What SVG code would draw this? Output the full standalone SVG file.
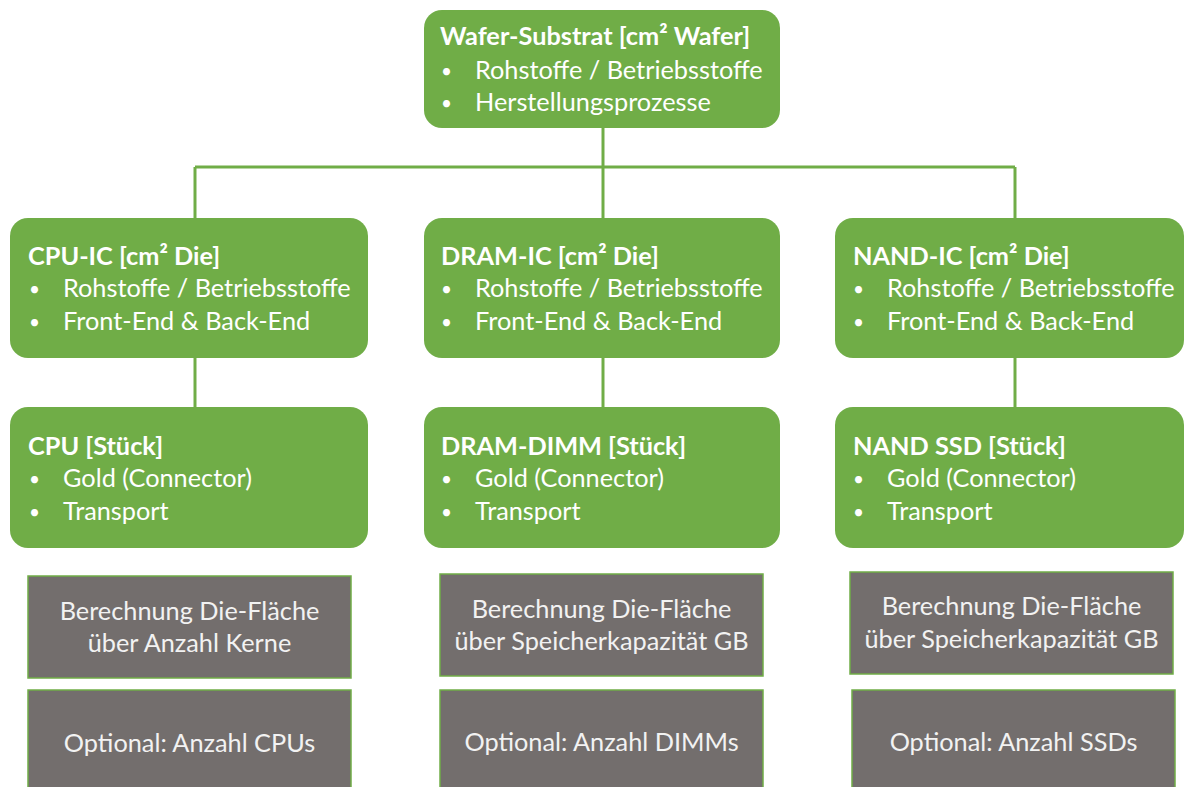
<svg xmlns="http://www.w3.org/2000/svg" width="1188" height="787" viewBox="0 0 1188 787">
  <style>
    .node { fill: #70ad47; }
    .note { fill: #736e6d; stroke: #70ad47; stroke-width: 1.5; }
    .link { fill: none; stroke: #70ad47; stroke-width: 3; }
    text { font-family: Lato, "Open Sans", "Liberation Sans", sans-serif; font-size: 25.3px; fill: #ffffff; }
    .title { font-weight: bold; }
    .dot { font-size: 19px; }
    .nt { fill: #f2f2f2; text-anchor: middle; }
  </style>
  <rect width="1188" height="787" fill="#ffffff"/>

  <!-- connectors -->
  <g id="connectors">
    <path class="link" d="M603 128 V218"/>
    <path class="link" d="M195 167 H1015"/>
    <path class="link" d="M195 167 V218"/>
    <path class="link" d="M1015 167 V218"/>
    <path class="link" d="M195 358 V407"/>
    <path class="link" d="M603 358 V407"/>
    <path class="link" d="M1015 358 V407"/>
  </g>

  <!-- root: wafer substrate -->
  <g id="wafer">
    <rect class="node" x="424" y="10" width="356" height="118" rx="18"/>
    <text class="title" x="440" y="45">Wafer-Substrat [cm² Wafer]</text>
    <text class="dot" x="441" y="78">•</text><text x="475" y="79">Rohstoffe / Betriebsstoffe</text>
    <text class="dot" x="441" y="110">•</text><text x="475" y="111">Herstellungsprozesse</text>
  </g>

  <!-- IC level -->
  <g id="cpu-ic">
    <rect class="node" x="10" y="218" width="358" height="140" rx="18"/>
    <text class="title" x="28" y="265">CPU-IC [cm² Die]</text>
    <text class="dot" x="29" y="296">•</text><text x="63" y="297">Rohstoffe / Betriebsstoffe</text>
    <text class="dot" x="29" y="329">•</text><text x="63" y="330">Front-End &amp; Back-End</text>
  </g>
  <g id="dram-ic">
    <rect class="node" x="424" y="218" width="356" height="140" rx="18"/>
    <text class="title" x="441" y="265">DRAM-IC [cm² Die]</text>
    <text class="dot" x="441" y="296">•</text><text x="475" y="297">Rohstoffe / Betriebsstoffe</text>
    <text class="dot" x="441" y="329">•</text><text x="475" y="330">Front-End &amp; Back-End</text>
  </g>
  <g id="nand-ic">
    <rect class="node" x="835" y="218" width="349" height="140" rx="18"/>
    <text class="title" x="853" y="265">NAND-IC [cm² Die]</text>
    <text class="dot" x="853" y="296">•</text><text x="887" y="297">Rohstoffe / Betriebsstoffe</text>
    <text class="dot" x="853" y="329">•</text><text x="887" y="330">Front-End &amp; Back-End</text>
  </g>

  <!-- product level -->
  <g id="cpu">
    <rect class="node" x="10" y="407" width="358" height="141" rx="18"/>
    <text class="title" x="28" y="455">CPU [Stück]</text>
    <text class="dot" x="29" y="486">•</text><text x="63" y="487">Gold (Connector)</text>
    <text class="dot" x="29" y="519">•</text><text x="63" y="520">Transport</text>
  </g>
  <g id="dram-dimm">
    <rect class="node" x="424" y="407" width="356" height="141" rx="18"/>
    <text class="title" x="441" y="455">DRAM-DIMM [Stück]</text>
    <text class="dot" x="441" y="486">•</text><text x="475" y="487">Gold (Connector)</text>
    <text class="dot" x="441" y="519">•</text><text x="475" y="520">Transport</text>
  </g>
  <g id="nand-ssd">
    <rect class="node" x="835" y="407" width="349" height="141" rx="18"/>
    <text class="title" x="853" y="455">NAND SSD [Stück]</text>
    <text class="dot" x="853" y="486">•</text><text x="887" y="487">Gold (Connector)</text>
    <text class="dot" x="853" y="519">•</text><text x="887" y="520">Transport</text>
  </g>

  <!-- calculation notes -->
  <g id="cpu-area">
    <rect class="note" x="28" y="576" width="323" height="102"/>
    <text class="nt" x="189.5" y="620">Berechnung Die-Fläche</text>
    <text class="nt" x="189.5" y="652">über Anzahl Kerne</text>
  </g>
  <g id="cpu-count">
    <rect class="note" x="28" y="690" width="323" height="110"/>
    <text class="nt" x="189.5" y="752">Optional: Anzahl CPUs</text>
  </g>
  <g id="dram-area">
    <rect class="note" x="440" y="574" width="323" height="102"/>
    <text class="nt" x="601.5" y="618">Berechnung Die-Fläche</text>
    <text class="nt" x="601.5" y="650">über Speicherkapazität GB</text>
  </g>
  <g id="dram-count">
    <rect class="note" x="440" y="690" width="323" height="110"/>
    <text class="nt" x="601.5" y="751">Optional: Anzahl DIMMs</text>
  </g>
  <g id="nand-area">
    <rect class="note" x="850" y="572" width="323" height="102"/>
    <text class="nt" x="1011.5" y="615">Berechnung Die-Fläche</text>
    <text class="nt" x="1011.5" y="648">über Speicherkapazität GB</text>
  </g>
  <g id="nand-count">
    <rect class="note" x="852" y="690" width="323" height="110"/>
    <text class="nt" x="1013.5" y="751">Optional: Anzahl SSDs</text>
  </g>
</svg>
